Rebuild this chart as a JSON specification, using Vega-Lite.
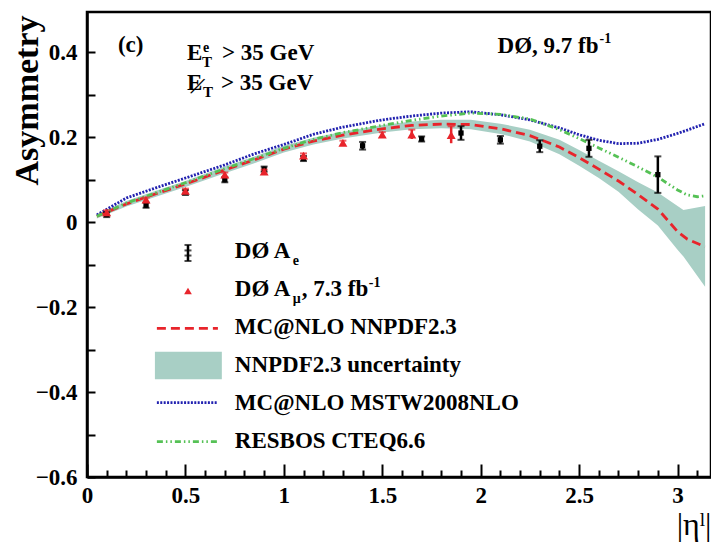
{
  "$schema": "https://vega.github.io/schema/vega-lite/v6.json",
  "width": 624,
  "height": 465,
  "autosize": {"type": "none"},
  "padding": {"left": 87, "top": 12, "right": 0, "bottom": 65},
  "background": "white",
  "resolve": {"axis": {"x": "independent"}},
  "config": {
    "view": {"stroke": "black", "strokeWidth": 2.5},
    "font": "Liberation Serif",
    "text": {"font": "Liberation Serif", "fontWeight": "bold", "fontSize": 23, "align": "left", "baseline": "alphabetic", "color": "black"},
    "axis": {"domainColor": "black", "domainWidth": 2.5, "tickColor": "black", "tickWidth": 2, "labelColor": "black", "titleColor": "black", "grid": false, "labelFont": "Liberation Serif", "labelFontWeight": "bold", "labelFontSize": 23, "titleFont": "Liberation Serif", "labelFlush": false, "labelOverlap": false}
  },
  "datasets": {
    "band": [
      {"eta": 0.05, "lo": 0.009, "hi": 0.019},
      {"eta": 0.2, "lo": 0.037, "hi": 0.05},
      {"eta": 0.35, "lo": 0.06, "hi": 0.074},
      {"eta": 0.5, "lo": 0.083, "hi": 0.097},
      {"eta": 0.7, "lo": 0.115, "hi": 0.131},
      {"eta": 0.85, "lo": 0.139, "hi": 0.155},
      {"eta": 1.0, "lo": 0.164, "hi": 0.18},
      {"eta": 1.15, "lo": 0.183, "hi": 0.199},
      {"eta": 1.3, "lo": 0.197, "hi": 0.213},
      {"eta": 1.5, "lo": 0.211, "hi": 0.229},
      {"eta": 1.65, "lo": 0.219, "hi": 0.237},
      {"eta": 1.8, "lo": 0.221, "hi": 0.241},
      {"eta": 1.95, "lo": 0.219, "hi": 0.241},
      {"eta": 2.1, "lo": 0.208, "hi": 0.232},
      {"eta": 2.25, "lo": 0.19, "hi": 0.218},
      {"eta": 2.4, "lo": 0.16, "hi": 0.194},
      {"eta": 2.5, "lo": 0.133, "hi": 0.17},
      {"eta": 2.6, "lo": 0.104, "hi": 0.145},
      {"eta": 2.7, "lo": 0.072, "hi": 0.12},
      {"eta": 2.8, "lo": 0.03, "hi": 0.094},
      {"eta": 2.9, "lo": -0.008, "hi": 0.07},
      {"eta": 3.0, "lo": -0.065, "hi": 0.038},
      {"eta": 3.03, "lo": -0.081, "hi": 0.029},
      {"eta": 3.14, "lo": -0.152, "hi": 0.038}
    ],
    "curves": [
      {"series": "MC@NLO NNPDF2.3", "eta": 0.05, "a": 0.014},
      {"series": "MC@NLO NNPDF2.3", "eta": 0.2, "a": 0.043},
      {"series": "MC@NLO NNPDF2.3", "eta": 0.35, "a": 0.067},
      {"series": "MC@NLO NNPDF2.3", "eta": 0.5, "a": 0.09},
      {"series": "MC@NLO NNPDF2.3", "eta": 0.7, "a": 0.123},
      {"series": "MC@NLO NNPDF2.3", "eta": 0.85, "a": 0.147},
      {"series": "MC@NLO NNPDF2.3", "eta": 1.0, "a": 0.172},
      {"series": "MC@NLO NNPDF2.3", "eta": 1.15, "a": 0.191},
      {"series": "MC@NLO NNPDF2.3", "eta": 1.3, "a": 0.205},
      {"series": "MC@NLO NNPDF2.3", "eta": 1.5, "a": 0.22},
      {"series": "MC@NLO NNPDF2.3", "eta": 1.65, "a": 0.228},
      {"series": "MC@NLO NNPDF2.3", "eta": 1.8, "a": 0.231},
      {"series": "MC@NLO NNPDF2.3", "eta": 1.95, "a": 0.23},
      {"series": "MC@NLO NNPDF2.3", "eta": 2.1, "a": 0.22},
      {"series": "MC@NLO NNPDF2.3", "eta": 2.25, "a": 0.204},
      {"series": "MC@NLO NNPDF2.3", "eta": 2.4, "a": 0.177},
      {"series": "MC@NLO NNPDF2.3", "eta": 2.5, "a": 0.152},
      {"series": "MC@NLO NNPDF2.3", "eta": 2.6, "a": 0.125},
      {"series": "MC@NLO NNPDF2.3", "eta": 2.7, "a": 0.097},
      {"series": "MC@NLO NNPDF2.3", "eta": 2.8, "a": 0.065},
      {"series": "MC@NLO NNPDF2.3", "eta": 2.9, "a": 0.031},
      {"series": "MC@NLO NNPDF2.3", "eta": 3.0, "a": -0.022},
      {"series": "MC@NLO NNPDF2.3", "eta": 3.05, "a": -0.04},
      {"series": "MC@NLO NNPDF2.3", "eta": 3.14, "a": -0.058},
      {"series": "MC@NLO MSTW2008NLO", "eta": 0.05, "a": 0.017},
      {"series": "MC@NLO MSTW2008NLO", "eta": 0.2, "a": 0.057},
      {"series": "MC@NLO MSTW2008NLO", "eta": 0.35, "a": 0.081},
      {"series": "MC@NLO MSTW2008NLO", "eta": 0.5, "a": 0.104},
      {"series": "MC@NLO MSTW2008NLO", "eta": 0.7, "a": 0.135},
      {"series": "MC@NLO MSTW2008NLO", "eta": 0.85, "a": 0.161},
      {"series": "MC@NLO MSTW2008NLO", "eta": 1.0, "a": 0.183},
      {"series": "MC@NLO MSTW2008NLO", "eta": 1.15, "a": 0.207},
      {"series": "MC@NLO MSTW2008NLO", "eta": 1.3, "a": 0.224},
      {"series": "MC@NLO MSTW2008NLO", "eta": 1.5, "a": 0.241},
      {"series": "MC@NLO MSTW2008NLO", "eta": 1.65, "a": 0.25},
      {"series": "MC@NLO MSTW2008NLO", "eta": 1.8, "a": 0.257},
      {"series": "MC@NLO MSTW2008NLO", "eta": 1.95, "a": 0.26},
      {"series": "MC@NLO MSTW2008NLO", "eta": 2.1, "a": 0.253},
      {"series": "MC@NLO MSTW2008NLO", "eta": 2.25, "a": 0.241},
      {"series": "MC@NLO MSTW2008NLO", "eta": 2.4, "a": 0.222},
      {"series": "MC@NLO MSTW2008NLO", "eta": 2.5, "a": 0.206},
      {"series": "MC@NLO MSTW2008NLO", "eta": 2.6, "a": 0.193},
      {"series": "MC@NLO MSTW2008NLO", "eta": 2.7, "a": 0.185},
      {"series": "MC@NLO MSTW2008NLO", "eta": 2.8, "a": 0.186},
      {"series": "MC@NLO MSTW2008NLO", "eta": 2.9, "a": 0.195},
      {"series": "MC@NLO MSTW2008NLO", "eta": 3.0, "a": 0.209},
      {"series": "MC@NLO MSTW2008NLO", "eta": 3.05, "a": 0.217},
      {"series": "MC@NLO MSTW2008NLO", "eta": 3.14, "a": 0.232},
      {"series": "RESBOS CTEQ6.6", "eta": 0.05, "a": 0.014},
      {"series": "RESBOS CTEQ6.6", "eta": 0.2, "a": 0.045},
      {"series": "RESBOS CTEQ6.6", "eta": 0.35, "a": 0.069},
      {"series": "RESBOS CTEQ6.6", "eta": 0.5, "a": 0.093},
      {"series": "RESBOS CTEQ6.6", "eta": 0.7, "a": 0.126},
      {"series": "RESBOS CTEQ6.6", "eta": 0.85, "a": 0.15},
      {"series": "RESBOS CTEQ6.6", "eta": 1.0, "a": 0.174},
      {"series": "RESBOS CTEQ6.6", "eta": 1.15, "a": 0.195},
      {"series": "RESBOS CTEQ6.6", "eta": 1.3, "a": 0.211},
      {"series": "RESBOS CTEQ6.6", "eta": 1.5, "a": 0.228},
      {"series": "RESBOS CTEQ6.6", "eta": 1.65, "a": 0.24},
      {"series": "RESBOS CTEQ6.6", "eta": 1.8, "a": 0.25},
      {"series": "RESBOS CTEQ6.6", "eta": 1.95, "a": 0.257},
      {"series": "RESBOS CTEQ6.6", "eta": 2.1, "a": 0.254},
      {"series": "RESBOS CTEQ6.6", "eta": 2.25, "a": 0.243},
      {"series": "RESBOS CTEQ6.6", "eta": 2.4, "a": 0.218},
      {"series": "RESBOS CTEQ6.6", "eta": 2.5, "a": 0.197},
      {"series": "RESBOS CTEQ6.6", "eta": 2.6, "a": 0.175},
      {"series": "RESBOS CTEQ6.6", "eta": 2.7, "a": 0.153},
      {"series": "RESBOS CTEQ6.6", "eta": 2.8, "a": 0.13},
      {"series": "RESBOS CTEQ6.6", "eta": 2.9, "a": 0.106},
      {"series": "RESBOS CTEQ6.6", "eta": 3.0, "a": 0.076},
      {"series": "RESBOS CTEQ6.6", "eta": 3.05, "a": 0.064},
      {"series": "RESBOS CTEQ6.6", "eta": 3.1, "a": 0.06},
      {"series": "RESBOS CTEQ6.6", "eta": 3.14, "a": 0.062}
    ],
    "electron": [
      {"eta": 0.1, "a": 0.018, "lo": 0.012, "hi": 0.024},
      {"eta": 0.3, "a": 0.04, "lo": 0.034, "hi": 0.046},
      {"eta": 0.5, "a": 0.07, "lo": 0.064, "hi": 0.076},
      {"eta": 0.7, "a": 0.1, "lo": 0.094, "hi": 0.106},
      {"eta": 0.9, "a": 0.125, "lo": 0.119, "hi": 0.131},
      {"eta": 1.1, "a": 0.15, "lo": 0.144, "hi": 0.156},
      {"eta": 1.4, "a": 0.18, "lo": 0.171, "hi": 0.189},
      {"eta": 1.7, "a": 0.196, "lo": 0.19, "hi": 0.202},
      {"eta": 1.9, "a": 0.21, "lo": 0.194, "hi": 0.226},
      {"eta": 2.1, "a": 0.194, "lo": 0.185, "hi": 0.203},
      {"eta": 2.3, "a": 0.179, "lo": 0.165, "hi": 0.193},
      {"eta": 2.55, "a": 0.174, "lo": 0.154, "hi": 0.194},
      {"eta": 2.9, "a": 0.112, "lo": 0.069, "hi": 0.155}
    ],
    "muon": [
      {"eta": 0.1, "a": 0.023, "lo": 0.018, "hi": 0.028},
      {"eta": 0.3, "a": 0.053, "lo": 0.048, "hi": 0.058},
      {"eta": 0.5, "a": 0.074, "lo": 0.069, "hi": 0.079},
      {"eta": 0.7, "a": 0.112, "lo": 0.107, "hi": 0.117},
      {"eta": 0.9, "a": 0.119, "lo": 0.114, "hi": 0.124},
      {"eta": 1.1, "a": 0.157, "lo": 0.152, "hi": 0.162},
      {"eta": 1.3, "a": 0.187, "lo": 0.182, "hi": 0.192},
      {"eta": 1.5, "a": 0.206, "lo": 0.2, "hi": 0.212},
      {"eta": 1.65, "a": 0.206, "lo": 0.196, "hi": 0.218},
      {"eta": 1.85, "a": 0.205, "lo": 0.186, "hi": 0.226}
    ],
    "one": [{}]
  },
  "layer": [
    {
      "data": {"name": "band"},
      "mark": {"type": "area", "color": "#a8cfc5", "opacity": 1},
      "encoding": {
        "x": {
          "field": "eta", "type": "quantitative",
          "scale": {"domain": [0, 3.17], "nice": false, "zero": false},
          "axis": {
            "orient": "bottom",
            "values": [0, 0.5, 1, 1.5, 2, 2.5, 3],
            "format": "~g",
            "labelOverlap": false,
            "tickSize": -13,
            "labelPadding": 20,
            "title": "|ηˡ|",
            "titleFontSize": 32,
            "titleFontWeight": "normal",
            "titleX": 624,
            "titleY": 57,
            "titleAlign": "right",
            "titleBaseline": "alphabetic"
          }
        },
        "y": {
          "field": "lo", "type": "quantitative",
          "scale": {"domain": [-0.6, 0.495], "nice": false, "zero": false},
          "axis": {
            "values": [-0.6, -0.55, -0.5, -0.45, -0.4, -0.35, -0.3, -0.25, -0.2, -0.15, -0.1, -0.05, 0, 0.05, 0.1, 0.15, 0.2, 0.25, 0.3, 0.35, 0.4, 0.45],
            "labelExpr": "abs(datum.value*5 - round(datum.value*5)) < 0.001 ? format(datum.value, '~g') : ''",
            "labelOverlap": false,
            "tickSize": -8,
            "labelPadding": 18,
            "encode": {"ticks": {"x2": {"condition": {"test": "abs(datum.value*5 - round(datum.value*5)) < 0.001", "value": 18}, "value": 8}}},
            "title": "Asymmetry",
            "titleFontSize": 34,
            "titleFontWeight": "bold",
            "titleAngle": 270,
            "titleX": -50,
            "titleY": 3,
            "titleAlign": "right",
            "titleBaseline": "alphabetic"
          }
        },
        "y2": {"field": "hi"}
      }
    },
    {
      "data": {"name": "curves"},
      "mark": {"type": "line", "strokeWidth": 2.8},
      "encoding": {
        "x": {
          "field": "eta", "type": "quantitative",
          "axis": {
            "orient": "bottom",
            "values": [0.1, 0.2, 0.3, 0.4, 0.6, 0.7, 0.8, 0.9, 1.1, 1.2, 1.3, 1.4, 1.6, 1.7, 1.8, 1.9, 2.1, 2.2, 2.3, 2.4, 2.6, 2.7, 2.8, 2.9, 3.1],
            "labels": false,
            "domain": false,
            "tickSize": -7,
            "title": null
          }
        },
        "y": {"field": "a", "type": "quantitative"},
        "strokeDash": {
          "field": "series", "type": "nominal",
          "scale": {"domain": ["MC@NLO NNPDF2.3", "MC@NLO MSTW2008NLO", "RESBOS CTEQ6.6"], "range": [[9, 5], [2, 1.4], [6, 3, 1.5, 3, 1.5, 3]]},
          "legend": null
        },
        "color": {
          "field": "series", "type": "nominal",
          "scale": {"domain": ["MC@NLO NNPDF2.3", "MC@NLO MSTW2008NLO", "RESBOS CTEQ6.6"], "range": ["#e8242b", "#2222b0", "#55c155"]},
          "legend": null
        }
      }
    },
    {
      "data": {"name": "electron"},
      "mark": {"type": "rule", "color": "black", "strokeWidth": 2.5},
      "encoding": {"x": {"field": "eta", "type": "quantitative", "axis": null}, "y": {"field": "lo", "type": "quantitative"}, "y2": {"field": "hi"}}
    },
    {
      "data": {"name": "electron"},
      "mark": {"type": "tick", "orient": "horizontal", "color": "black", "size": 7, "thickness": 2},
      "encoding": {"x": {"field": "eta", "type": "quantitative", "axis": null}, "y": {"field": "lo", "type": "quantitative"}}
    },
    {
      "data": {"name": "electron"},
      "mark": {"type": "tick", "orient": "horizontal", "color": "black", "size": 7, "thickness": 2},
      "encoding": {"x": {"field": "eta", "type": "quantitative", "axis": null}, "y": {"field": "hi", "type": "quantitative"}}
    },
    {
      "data": {"name": "electron"},
      "mark": {"type": "point", "shape": "square", "filled": true, "color": "black", "size": 28, "opacity": 1},
      "encoding": {"x": {"field": "eta", "type": "quantitative", "axis": null}, "y": {"field": "a", "type": "quantitative"}}
    },
    {
      "data": {"name": "muon"},
      "mark": {"type": "rule", "color": "#e8242b", "strokeWidth": 2.5},
      "encoding": {"x": {"field": "eta", "type": "quantitative", "axis": null}, "y": {"field": "lo", "type": "quantitative"}, "y2": {"field": "hi"}}
    },
    {
      "data": {"name": "muon"},
      "mark": {"type": "tick", "orient": "horizontal", "color": "#e8242b", "size": 7, "thickness": 2},
      "encoding": {"x": {"field": "eta", "type": "quantitative", "axis": null}, "y": {"field": "hi", "type": "quantitative"}}
    },
    {
      "data": {"name": "muon"},
      "mark": {"type": "point", "shape": "triangle-up", "filled": true, "color": "#e8242b", "size": 80, "opacity": 1},
      "encoding": {"x": {"field": "eta", "type": "quantitative", "axis": null}, "y": {"field": "a", "type": "quantitative"}}
    },
    {
      "data": {"name": "one"},
      "mark": {"type": "rule", "color": "black", "strokeWidth": 2.5},
      "encoding": {"x": {"datum": 0.513, "type": "quantitative", "axis": null}, "y": {"datum": -0.0536, "type": "quantitative"}, "y2": {"datum": -0.0913}}
    },
    {
      "data": {"name": "one"},
      "mark": {"type": "tick", "orient": "horizontal", "color": "black", "size": 7, "thickness": 2},
      "encoding": {"x": {"datum": 0.513, "type": "quantitative", "axis": null}, "y": {"datum": -0.0536, "type": "quantitative"}}
    },
    {
      "data": {"name": "one"},
      "mark": {"type": "tick", "orient": "horizontal", "color": "black", "size": 7, "thickness": 2},
      "encoding": {"x": {"datum": 0.513, "type": "quantitative", "axis": null}, "y": {"datum": -0.0913, "type": "quantitative"}}
    },
    {
      "data": {"name": "one"},
      "mark": {"type": "tick", "orient": "horizontal", "color": "black", "size": 7, "thickness": 2},
      "encoding": {"x": {"datum": 0.513, "type": "quantitative", "axis": null}, "y": {"datum": -0.0665, "type": "quantitative"}}
    },
    {
      "data": {"name": "one"},
      "mark": {"type": "tick", "orient": "horizontal", "color": "black", "size": 7, "thickness": 2},
      "encoding": {"x": {"datum": 0.513, "type": "quantitative", "axis": null}, "y": {"datum": -0.0785, "type": "quantitative"}}
    },
    {
      "data": {"name": "one"},
      "mark": {"type": "point", "shape": "triangle-up", "filled": true, "color": "#e8242b", "size": 60, "opacity": 1},
      "encoding": {"x": {"datum": 0.513, "type": "quantitative", "axis": null}, "y": {"datum": -0.162, "type": "quantitative"}}
    },
    {
      "data": {"name": "one"},
      "mark": {"type": "rule", "color": "#e8242b", "strokeWidth": 2.8, "strokeDash": [9, 5]},
      "encoding": {"x": {"datum": 0.355, "type": "quantitative", "axis": null}, "x2": {"datum": 0.665}, "y": {"datum": -0.2498, "type": "quantitative"}}
    },
    {
      "data": {"name": "one"},
      "mark": {"type": "rect", "color": "#a8cfc5", "opacity": 1},
      "encoding": {"x": {"datum": 0.345, "type": "quantitative", "axis": null}, "x2": {"datum": 0.685}, "y": {"datum": -0.3049, "type": "quantitative"}, "y2": {"datum": -0.3698}}
    },
    {
      "data": {"name": "one"},
      "mark": {"type": "rule", "color": "#2222b0", "strokeWidth": 2.8, "strokeDash": [2, 1.4]},
      "encoding": {"x": {"datum": 0.355, "type": "quantitative", "axis": null}, "x2": {"datum": 0.665}, "y": {"datum": -0.425, "type": "quantitative"}}
    },
    {
      "data": {"name": "one"},
      "mark": {"type": "rule", "color": "#55c155", "strokeWidth": 2.8, "strokeDash": [6, 3, 1.5, 3, 1.5, 3]},
      "encoding": {"x": {"datum": 0.355, "type": "quantitative", "axis": null}, "x2": {"datum": 0.665}, "y": {"datum": -0.5168, "type": "quantitative"}}
    },
    {
      "data": {"name": "one"},
      "mark": {"type": "text", "text": "DØ A"},
      "encoding": {"x": {"datum": 0.751, "type": "quantitative", "axis": null}, "y": {"datum": -0.0854, "type": "quantitative"}}
    },
    {
      "data": {"name": "one"},
      "mark": {"type": "text", "text": "e", "fontSize": 14, "dx": 58, "dy": 7},
      "encoding": {"x": {"datum": 0.751, "type": "quantitative", "axis": null}, "y": {"datum": -0.0854, "type": "quantitative"}}
    },
    {
      "data": {"name": "one"},
      "mark": {"type": "text", "text": "DØ A"},
      "encoding": {"x": {"datum": 0.751, "type": "quantitative", "axis": null}, "y": {"datum": -0.1749, "type": "quantitative"}}
    },
    {
      "data": {"name": "one"},
      "mark": {"type": "text", "text": "μ", "fontSize": 14, "dx": 58, "dy": 7},
      "encoding": {"x": {"datum": 0.751, "type": "quantitative", "axis": null}, "y": {"datum": -0.1749, "type": "quantitative"}}
    },
    {
      "data": {"name": "one"},
      "mark": {"type": "text", "text": ", 7.3 fb", "dx": 67},
      "encoding": {"x": {"datum": 0.751, "type": "quantitative", "axis": null}, "y": {"datum": -0.1749, "type": "quantitative"}}
    },
    {
      "data": {"name": "one"},
      "mark": {"type": "text", "text": "-1", "fontSize": 14, "dx": 134, "dy": -9},
      "encoding": {"x": {"datum": 0.751, "type": "quantitative", "axis": null}, "y": {"datum": -0.1749, "type": "quantitative"}}
    },
    {
      "data": {"name": "one"},
      "mark": {"type": "text", "text": "MC@NLO NNPDF2.3"},
      "encoding": {"x": {"datum": 0.751, "type": "quantitative", "axis": null}, "y": {"datum": -0.2644, "type": "quantitative"}}
    },
    {
      "data": {"name": "one"},
      "mark": {"type": "text", "text": "NNPDF2.3 uncertainty"},
      "encoding": {"x": {"datum": 0.751, "type": "quantitative", "axis": null}, "y": {"datum": -0.3538, "type": "quantitative"}}
    },
    {
      "data": {"name": "one"},
      "mark": {"type": "text", "text": "MC@NLO MSTW2008NLO"},
      "encoding": {"x": {"datum": 0.751, "type": "quantitative", "axis": null}, "y": {"datum": -0.4433, "type": "quantitative"}}
    },
    {
      "data": {"name": "one"},
      "mark": {"type": "text", "text": "RESBOS CTEQ6.6"},
      "encoding": {"x": {"datum": 0.751, "type": "quantitative", "axis": null}, "y": {"datum": -0.5328, "type": "quantitative"}}
    },
    {
      "data": {"name": "one"},
      "mark": {"type": "text", "text": "(c)"},
      "encoding": {"x": {"datum": 0.157, "type": "quantitative", "axis": null}, "y": {"datum": 0.401, "type": "quantitative"}}
    },
    {
      "data": {"name": "one"},
      "mark": {"type": "text", "text": "E"},
      "encoding": {"x": {"datum": 0.508, "type": "quantitative", "axis": null}, "y": {"datum": 0.382, "type": "quantitative"}}
    },
    {
      "data": {"name": "one"},
      "mark": {"type": "text", "text": "e", "fontSize": 14, "dx": 16, "dy": -8},
      "encoding": {"x": {"datum": 0.508, "type": "quantitative", "axis": null}, "y": {"datum": 0.382, "type": "quantitative"}}
    },
    {
      "data": {"name": "one"},
      "mark": {"type": "text", "text": "T", "fontSize": 15, "dx": 15, "dy": 7},
      "encoding": {"x": {"datum": 0.508, "type": "quantitative", "axis": null}, "y": {"datum": 0.382, "type": "quantitative"}}
    },
    {
      "data": {"name": "one"},
      "mark": {"type": "text", "text": "> 35 GeV", "dx": 35},
      "encoding": {"x": {"datum": 0.508, "type": "quantitative", "axis": null}, "y": {"datum": 0.382, "type": "quantitative"}}
    },
    {
      "data": {"name": "one"},
      "mark": {"type": "text", "text": "E"},
      "encoding": {"x": {"datum": 0.508, "type": "quantitative", "axis": null}, "y": {"datum": 0.311, "type": "quantitative"}}
    },
    {
      "data": {"name": "one"},
      "mark": {"type": "text", "text": "/", "fontWeight": "normal", "fontSize": 28, "align": "center", "angle": 25, "dx": 8, "dy": 1},
      "encoding": {"x": {"datum": 0.508, "type": "quantitative", "axis": null}, "y": {"datum": 0.311, "type": "quantitative"}}
    },
    {
      "data": {"name": "one"},
      "mark": {"type": "text", "text": "T", "fontSize": 15, "dx": 16, "dy": 7},
      "encoding": {"x": {"datum": 0.508, "type": "quantitative", "axis": null}, "y": {"datum": 0.311, "type": "quantitative"}}
    },
    {
      "data": {"name": "one"},
      "mark": {"type": "text", "text": "> 35 GeV", "dx": 34},
      "encoding": {"x": {"datum": 0.508, "type": "quantitative", "axis": null}, "y": {"datum": 0.311, "type": "quantitative"}}
    },
    {
      "data": {"name": "one"},
      "mark": {"type": "text", "text": "DØ, 9.7 fb"},
      "encoding": {"x": {"datum": 2.086, "type": "quantitative", "axis": null}, "y": {"datum": 0.398, "type": "quantitative"}}
    },
    {
      "data": {"name": "one"},
      "mark": {"type": "text", "text": "-1", "fontSize": 14, "dx": 102, "dy": -10},
      "encoding": {"x": {"datum": 2.086, "type": "quantitative", "axis": null}, "y": {"datum": 0.398, "type": "quantitative"}}
    }
  ]
}
